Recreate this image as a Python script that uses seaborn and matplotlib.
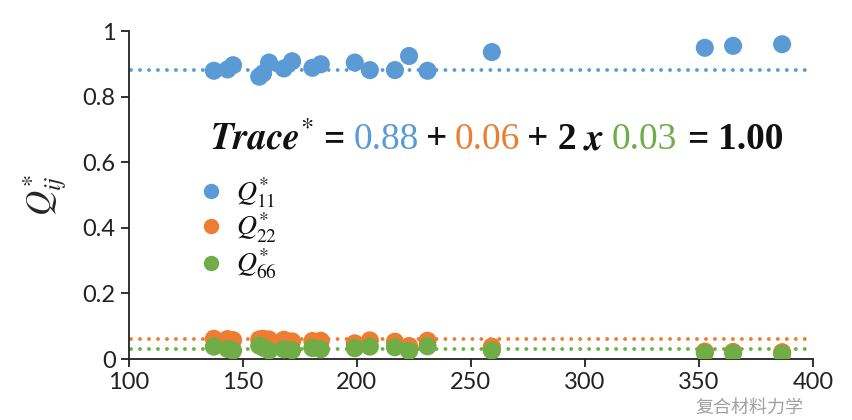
import numpy as np
import pandas as pd
import seaborn as sns
import matplotlib
matplotlib.use("Agg")
import matplotlib.pyplot as plt

# ---- data ----
x_vals = [137.3, 143.3, 145.7, 157.2, 158.9, 161.5, 168.0, 171.6, 180.5, 184.2,
          199.1, 205.7, 216.7, 222.9, 231.0, 259.2, 352.6, 365.0, 386.5]
q11 = [0.879, 0.883, 0.896, 0.861, 0.871, 0.904, 0.886, 0.908, 0.888, 0.899,
       0.904, 0.881, 0.881, 0.924, 0.879, 0.936, 0.949, 0.955, 0.960]
q22 = [0.062, 0.061, 0.058, 0.060, 0.062, 0.060, 0.059, 0.054, 0.055, 0.056,
       0.048, 0.057, 0.053, 0.040, 0.056, 0.038, 0.023, 0.022, 0.021]
q66 = [0.038, 0.031, 0.026, 0.041, 0.035, 0.026, 0.030, 0.027, 0.034, 0.030,
       0.033, 0.038, 0.036, 0.025, 0.039, 0.026, 0.019, 0.018, 0.016]
series_names = ["$Q^{*}_{11}$", "$Q^{*}_{22}$", "$Q^{*}_{66}$"]
mean_vals = [0.88, 0.06, 0.03]
colors = ["#5B9BD5", "#ED7D31", "#70AD47"]
line_x = [101, 398]
x_ticks = [100, 150, 200, 250, 300, 350, 400]
y_ticks = [0, 0.2, 0.4, 0.6, 0.8, 1.0]
y_tick_labels = ["0", "0.2", "0.4", "0.6", "0.8", "1"]

df = pd.DataFrame({
    "x": x_vals * 3,
    "y": q11 + q22 + q66,
    "series": [series_names[0]] * len(x_vals) + [series_names[1]] * len(x_vals)
              + [series_names[2]] * len(x_vals),
})

sns.set_theme(style="white")
plt.rcParams["font.family"] = ["Lato", "DejaVu Sans"]
plt.rcParams["mathtext.fontset"] = "stix"

fig = plt.figure(figsize=(8.53, 4.2), dpi=100)
ax = fig.add_axes([0.151, 0.145, 0.802, 0.781])

# dotted mean lines
for v, c in zip(mean_vals, colors):
    ax.plot(line_x, [v, v], color=c, lw=2.8, linestyle=(0, (0.01, 2.3)),
            dash_capstyle="round", zorder=1)

sns.scatterplot(data=df, x="x", y="y", hue="series", palette=colors,
                s=170, edgecolor="none", ax=ax, zorder=3, legend=True)

ax.set_xlim(100, 400)
ax.set_ylim(0, 1)
ax.set_xticks(x_ticks)
ax.set_yticks(y_ticks)
ax.set_yticklabels(y_tick_labels)
ax.tick_params(axis="both", labelsize=17, colors="#222222", direction="out",
               length=6, width=1.3, left=True, bottom=True)
for sp in ["top", "right"]:
    ax.spines[sp].set_visible(False)
for sp in ["left", "bottom"]:
    ax.spines[sp].set_color("#222222")
    ax.spines[sp].set_linewidth(1.3)
ax.set_xlabel("")
ax.set_ylabel("$Q^{*}_{ij}$", fontsize=25, labelpad=10)

leg = ax.legend(loc="upper left", bbox_to_anchor=(0.083, 0.595), frameon=False,
                fontsize=20, labelspacing=0.05, handlelength=1.0,
                handletextpad=0.4, markerscale=0.85, borderaxespad=0)
for t in leg.get_texts():
    t.set_color("#111111")

# multicolour trace equation
pieces = [("$\\mathbfit{Trace}^{*}$", "#111111", "bold", 0),
          ("=", "#111111", "bold", 7),
          ("0.88", colors[0], "normal", 7),
          ("+", "#111111", "bold", 5),
          ("0.06", colors[1], "normal", 5),
          ("+ 2", "#111111", "bold", 5),
          ("$\\mathbfit{x}$", "#111111", "bold", 5),
          ("0.03", colors[2], "normal", 5),
          ("=", "#111111", "bold", 7),
          ("1.00", "#111111", "bold", 7)]
prev = None
for s, c, w, gap in pieces:
    kw = dict(fontsize=27, color=c, fontweight=w, family="Liberation Serif")
    if prev is None:
        prev = ax.text(0.118, 0.615, s, transform=ax.transAxes, ha="left",
                       va="bottom", **kw)
    else:
        prev = ax.annotate(s, xy=(1, 0), xycoords=prev, xytext=(gap, 0),
                           textcoords="offset points", ha="left", va="bottom",
                           **kw)

# watermark
fig.text(0.815, 0.028, "复合材料力学", fontsize=13, color="#888888", alpha=0.8,
         family=["Noto Sans CJK SC", "DejaVu Sans"], ha="left", va="center")

fig.savefig("out.png", dpi=100)
